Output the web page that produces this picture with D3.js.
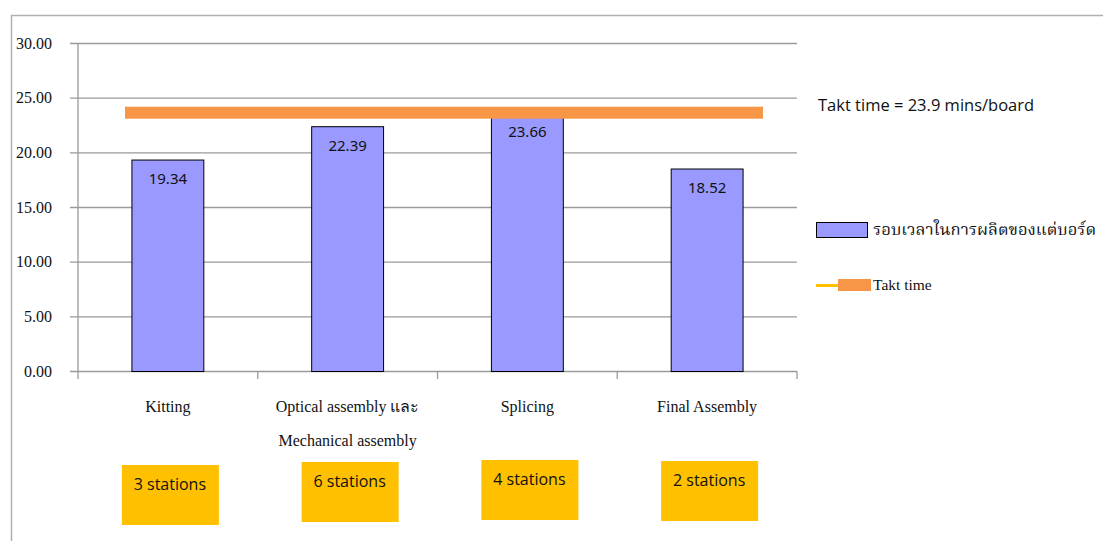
<!DOCTYPE html>
<html><head><meta charset="utf-8">
<script src="https://cdn.jsdelivr.net/npm/d3@7"></script>
<style>body{margin:0;background:#fff}svg{display:block}</style>
</head><body><svg id="c" width="1103" height="541"></svg>
<script>
const categories = ["Kitting", "Optical assembly และ|Mechanical assembly", "Splicing", "Final Assembly"];
const cycleTimes = [19.34, 22.39, 23.66, 18.52];
const stations = ["3 stations", "6 stations", "4 stations", "2 stations"];
const taktLineValue = 23.67;
const taktLabel = "Takt time = 23.9 mins/board";
const yTicks = [0, 5, 10, 15, 20, 25, 30];
const seriesNames = ["รอบเวลาในการผลิตของแต่บอร์ด", "Takt time"];

const svg = d3.select("#c");
const serif = "Liberation Serif, Times New Roman, serif";
const sans = "Noto Sans, DejaVu Sans, sans-serif";
const sans2 = "Open Sans, Noto Sans, sans-serif";

// outer frame
svg.append("path").attr("d","M11.5,541 V15.5 H1103").attr("fill","none").attr("stroke","#b0b0b0").attr("stroke-width",1.5);

const x = d3.scaleBand().domain(categories).range([78, 797]).paddingInner(0.6).paddingOuter(0.3);
const xb = d3.scaleBand().domain(categories).range([78, 797]);
const y = d3.scaleLinear().domain([0, 30]).range([371.5, 43.5]);

const g = svg.append("g");
g.selectAll("line.grid").data(yTicks).join("line")
  .attr("x1", 70).attr("x2", 797).attr("y1", d=>y(d)).attr("y2", d=>y(d))
  .attr("stroke","#9a9a9a").attr("stroke-width",1.3);
g.append("line").attr("x1",78).attr("x2",78).attr("y1",y(30)).attr("y2",379).attr("stroke","#9a9a9a").attr("stroke-width",1.3);
g.selectAll("text.yt").data(yTicks).join("text")
  .attr("x",52).attr("y",d=>y(d)+5).attr("text-anchor","end")
  .attr("font-family",serif).attr("font-size",16).attr("fill","#111")
  .text(d=>d3.format(".2f")(d));
g.selectAll("line.ct").data(categories.slice(1).concat(["end"])).join("line")
  .attr("x1",(d,i)=> i<3 ? xb(d) : 797).attr("x2",(d,i)=> i<3 ? xb(d) : 797)
  .attr("y1",y(0)).attr("y2",379).attr("stroke","#9a9a9a").attr("stroke-width",1.3);

svg.selectAll("rect.bar").data(cycleTimes).join("rect")
  .attr("x",(d,i)=>x(categories[i])).attr("width",x.bandwidth())
  .attr("y",d=>y(d)).attr("height",d=>y(0)-y(d))
  .attr("fill","#9999ff").attr("stroke","#000").attr("stroke-width",1);
svg.selectAll("text.bl").data(cycleTimes).join("text")
  .attr("x",(d,i)=>x(categories[i])+x.bandwidth()/2).attr("y",d=>y(d)+24)
  .attr("text-anchor","middle").attr("font-family",sans).attr("font-size",15).attr("fill","#111")
  .text(d=>d3.format(".2f")(d));

svg.append("rect").attr("x",125).attr("width",763-125).attr("y",y(taktLineValue)-6).attr("height",12).attr("fill","#f79646");

categories.forEach((c,i)=>{
  c.split("|").forEach((l,j)=>{
    svg.append("text").attr("x",xb(c)+xb.bandwidth()/2).attr("y",412+j*34)
      .attr("text-anchor","middle").attr("font-family",serif).attr("font-size",16).attr("fill","#111").text(l);
  });
});

const boxY = [465, 462, 460, 461];
stations.forEach((s,i)=>{
  const cx = xb(categories[i]) + xb.bandwidth()/2;
  svg.append("rect").attr("x",cx-46).attr("y",boxY[i]).attr("width",97).attr("height",60).attr("fill","#ffc000");
  svg.append("text").attr("x",cx+2).attr("y",boxY[i]+25).attr("text-anchor","middle")
    .attr("font-family",sans2).attr("font-size",16).attr("fill","#111").text(s);
});

svg.append("text").attr("x",818).attr("y",111).attr("font-family",sans2)
  .attr("font-size",16.5).attr("fill","#111").text(taktLabel);

svg.append("rect").attr("x",816.5).attr("y",222.5).attr("width",51).attr("height",15).attr("fill","#9999ff").attr("stroke","#000");
svg.append("text").attr("x",873).attr("y",235).attr("font-family","Noto Serif Thai, Noto Sans Thai, "+serif)
  .attr("font-size",16.6).attr("fill","#111").text(seriesNames[0]);
svg.append("line").attr("x1",816).attr("x2",840).attr("y1",285.5).attr("y2",285.5).attr("stroke","#ffc000").attr("stroke-width",3);
svg.append("rect").attr("x",838).attr("y",279).attr("width",33).attr("height",12).attr("fill","#f79646");
svg.append("text").attr("x",873).attr("y",290).attr("font-family",serif).attr("font-size",15.5).attr("fill","#111").text(seriesNames[1]);
</script></body></html>
